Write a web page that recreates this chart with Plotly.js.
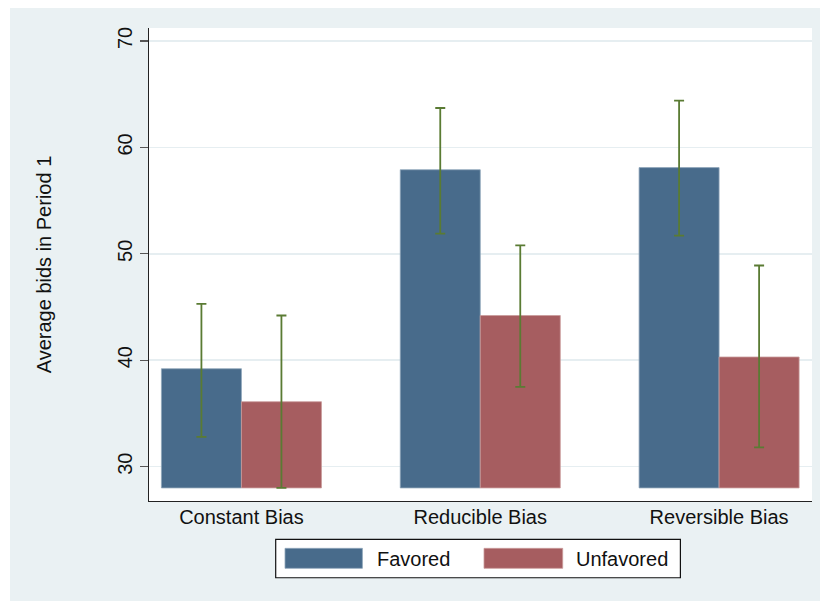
<!DOCTYPE html>
<html>
<head>
<meta charset="utf-8">
<script src="https://cdn.plot.ly/plotly-3.0.1.min.js"></script>
<style>
html,body{margin:0;padding:0;background:#ffffff;width:820px;height:601px;overflow:hidden;}
#chart{position:absolute;left:10px;top:8px;width:810px;height:593px;}
</style>
</head>
<body>
<div id="chart"></div>
<script>
// ---- data ----
var categories = ['Constant Bias', 'Reducible Bias', 'Reversible Bias'];
var favored = [39.2, 57.9, 58.1];
var favoredUpper = [45.3, 63.7, 64.4];
var favoredLower = [32.8, 51.9, 51.7];
var unfavored = [36.1, 44.2, 40.3];
var unfavoredUpper = [44.2, 50.8, 48.9];
var unfavoredLower = [28.0, 37.5, 31.8];
var barBase = 28;
var yTicks = [30, 40, 50, 60, 70];
var seriesNames = ['Favored', 'Unfavored'];

// ---- styles ----
var colFav = '#486B8B';
var colUnf = '#A65D60';
var colErr = '#5A7B33';
var bg = '#EAF1F3';
var fontFam = 'Liberation Sans, Arial, Helvetica, sans-serif';

function heights(v) { return v.map(function (x) { return x - barBase; }); }
function diff(a, b) { return a.map(function (x, i) { return x - b[i]; }); }

var traces = [
  {
    type: 'bar', name: seriesNames[0], x: categories, y: heights(favored), base: barBase,
    marker: { color: colFav, line: { color: '#8FA6BA', width: 0.8 } },
    error_y: { type: 'data', symmetric: false, array: diff(favoredUpper, favored),
      arrayminus: diff(favored, favoredLower), color: colErr, thickness: 1.8, width: 5 },
    showlegend: false, hoverinfo: 'skip'
  },
  {
    type: 'bar', name: seriesNames[1], x: categories, y: heights(unfavored), base: barBase,
    marker: { color: colUnf, line: { color: '#C99A9B', width: 0.8 } },
    error_y: { type: 'data', symmetric: false, array: diff(unfavoredUpper, unfavored),
      arrayminus: diff(unfavored, unfavoredLower), color: colErr, thickness: 1.8, width: 5 },
    showlegend: false, hoverinfo: 'skip'
  }
];

// plot area in page pixels
var pl = 149.3, pr = 812.3, pt = 28.3, pb = 501;
function px(x) { return (x - pl) / (pr - pl); }
function py(y) { return (pb - y) / (pb - pt); }

var shapes = [
  { type: 'rect', xref: 'paper', yref: 'paper', x0: px(276), x1: px(680.7), y0: py(577.7), y1: py(539.3),
    fillcolor: '#ffffff', line: { color: '#111111', width: 1.2 }, layer: 'above' },
  { type: 'rect', xref: 'paper', yref: 'paper', x0: px(285.3), x1: px(362.7), y0: py(568.3), y1: py(548.3),
    fillcolor: colFav, line: { color: '#8FA6BA', width: 0.8 }, layer: 'above' },
  { type: 'rect', xref: 'paper', yref: 'paper', x0: px(484.3), x1: px(563), y0: py(568.3), y1: py(548.3),
    fillcolor: colUnf, line: { color: '#C99A9B', width: 0.8 }, layer: 'above' }
];

var annotations = [
  { xref: 'paper', yref: 'paper', x: px(375), y: py(559), xanchor: 'left', yanchor: 'middle',
    text: seriesNames[0], showarrow: false, font: { family: fontFam, size: 20, color: '#111' } },
  { xref: 'paper', yref: 'paper', x: px(574), y: py(559), xanchor: 'left', yanchor: 'middle',
    text: seriesNames[1], showarrow: false, font: { family: fontFam, size: 20, color: '#111' } }
];

var layout = {
  width: 810, height: 593,
  margin: { l: 139, r: 8, t: 20, b: 100, pad: 0 },
  paper_bgcolor: bg,
  plot_bgcolor: '#ffffff',
  font: { family: fontFam, size: 20, color: '#111' },
  barmode: 'group',
  bargap: 0.33,
  bargroupgap: 0,
  showlegend: false,
  xaxis: {
    type: 'category',
    range: [-0.387, 2.389],
    showgrid: false,
    zeroline: false,
    showline: true, linecolor: '#222', linewidth: 1.2,
    ticks: '', ticklen: 0,
    ticklabelstandoff: -2,
    tickfont: { family: fontFam, size: 20, color: '#111' },
    fixedrange: true
  },
  yaxis: {
    range: [26.77, 71.22],
    tickvals: yTicks,
    ticktext: yTicks.map(String),
    tickangle: -90,
    showgrid: true, gridcolor: '#E6EEF1', gridwidth: 1.6,
    zeroline: false,
    showline: true, linecolor: '#222', linewidth: 1.2,
    ticks: 'outside', ticklen: 8, tickcolor: '#555', tickwidth: 1.2,
    tickfont: { family: fontFam, size: 20, color: '#111' },
    title: { text: 'Average bids in Period 1', font: { family: fontFam, size: 20, color: '#111' }, standoff: 56 },
    fixedrange: true
  },
  shapes: shapes,
  annotations: annotations
};

Plotly.newPlot('chart', traces, layout, { staticPlot: true, displayModeBar: false });
</script>
</body>
</html>
